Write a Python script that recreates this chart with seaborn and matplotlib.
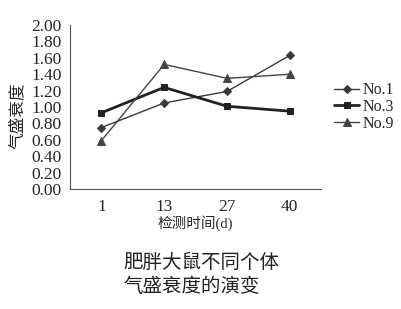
import matplotlib
matplotlib.use("Agg")
import matplotlib.pyplot as plt
import seaborn as sns
import pandas as pd

days = ["1", "13", "27", "40"]
no1 = [0.75, 1.05, 1.19, 1.63]
no3 = [0.93, 1.24, 1.01, 0.95]
no9 = [0.59, 1.52, 1.35, 1.40]
series_names = ["No.1", "No.3", "No.9"]
y_ticks = [0.0, 0.2, 0.4, 0.6, 0.8, 1.0, 1.2, 1.4, 1.6, 1.8, 2.0]

sns.set_style("white")
plt.rcParams['font.family'] = ['Liberation Serif', 'Noto Sans CJK SC']

rows = []
for name, vals in zip(series_names, [no1, no3, no9]):
    for i, (d, v) in enumerate(zip(days, vals)):
        rows.append({"x": i, "day": d, "value": v, "series": name})
df = pd.DataFrame(rows)

fig = plt.figure(figsize=(4.02, 3.09), dpi=100)
ax = fig.add_axes([0.174, 0.388, 0.625, 0.531])

styles = {"No.1": ("D", 4, 1.0, "#3a3a3a"),
          "No.3": ("s", 5, 2.0, "#222222"),
          "No.9": ("^", 5.5, 1.0, "#444444")}
for name in series_names:
    m, ms, lw, c = styles[name]
    sub = df[df.series == name]
    sns.lineplot(data=sub, x="x", y="value", ax=ax, marker=m, markersize=ms,
                 linewidth=lw, color=c, markeredgecolor=c, label=name)

ax.set_xlim(-0.5, 3.5)
ax.set_ylim(0, 2.0)
ax.set_yticks(y_ticks)
ax.set_yticklabels([f"{v:.2f}" for v in y_ticks], fontsize=12.5)
ax.set_xticks(range(len(days)))
ax.set_xticklabels(days, fontsize=12.5)
ax.set_xticks([-0.5, 0.5, 1.5, 2.5, 3.5], minor=True)
ax.tick_params(axis='x', which='major', length=0, pad=7)
ax.tick_params(axis='x', which='minor', length=3, direction='in', color='#555555')
ax.tick_params(axis='y', length=0, pad=6)
for s in ["top", "right"]:
    ax.spines[s].set_visible(False)
for s in ["left", "bottom"]:
    ax.spines[s].set_color("#555555")
    ax.spines[s].set_linewidth(0.8)

ax.set_xlabel("检测时间(d)", fontsize=10.5, labelpad=0)
ax.set_ylabel("气盛衰度", fontsize=12, labelpad=8)
ax.yaxis.set_label_coords(-0.175, 0.45)

leg = ax.legend(loc="center left", bbox_to_anchor=(1.05, 0.5), frameon=False,
                fontsize=11.5, handlelength=1.6, labelspacing=0.05, handletextpad=0.2,
                borderaxespad=0, borderpad=0)

fig.text(0.306, 0.11, "肥胖大鼠不同个体\n气盛衰度的演变", fontsize=14,
         ha="left", va="center", linespacing=1.35, color="#222222")

fig.savefig("out.png", dpi=100)
